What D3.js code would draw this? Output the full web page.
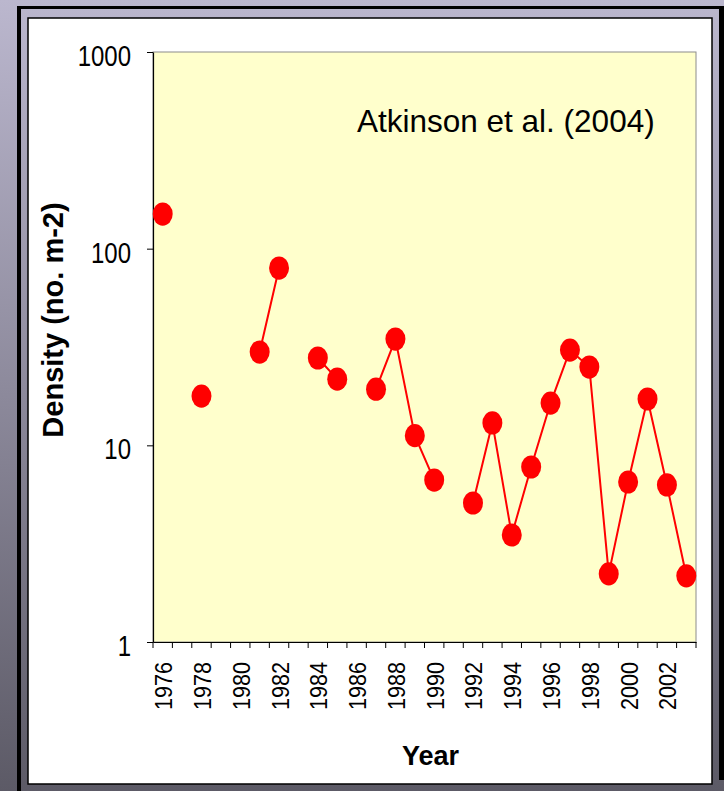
<!DOCTYPE html>
<html>
<head>
<meta charset="utf-8">
<script src="https://cdn.jsdelivr.net/npm/d3@7"></script>
<style>
  html, body { margin: 0; padding: 0; background: #ffffff; }
  svg { display: block; }
</style>
</head>
<body>
<svg id="chart" width="724" height="791"></svg>
<script>
// ---- data ----
const years = [1976,1977,1978,1979,1980,1981,1982,1983,1984,1985,1986,1987,1988,1989,
               1990,1991,1992,1993,1994,1995,1996,1997,1998,1999,2000,2001,2002,2003];
const density = [150,null,17.8,null,null,29.8,79.7,null,27.8,21.7,null,19.3,34.7,11.2,
                 6.66,null,5.09,13.0,3.50,7.76,16.4,30.5,25.0,2.22,6.51,17.2,6.29,2.17];
const yTicks = [1,10,100,1000];
const xLabelYears = [1976,1978,1980,1982,1984,1986,1988,1990,1992,1994,1996,1998,2000,2002];
const yTitle = "Density (no. m-2)";
const xTitle = "Year";
const note = "Atkinson et al. (2004)";

(function () {
const data = years.map((yr, i) => ({ year: yr, value: density[i] }));

const FONT = "'Liberation Sans', Arial, Helvetica, sans-serif";
const svg = d3.select("#chart");

// ---- background frame ----
const defs = svg.append("defs");
const grad = defs.append("linearGradient").attr("id", "bg")
  .attr("x1", 0).attr("y1", 0).attr("x2", 0).attr("y2", 1);
grad.append("stop").attr("offset", "0%").attr("stop-color", "#bbb7ce");
grad.append("stop").attr("offset", "50%").attr("stop-color", "#8c899b");
grad.append("stop").attr("offset", "100%").attr("stop-color", "#5c5a66");

svg.append("rect").attr("x", 0).attr("y", 0).attr("width", 724).attr("height", 791)
  .attr("fill", "url(#bg)");
// thick black frame (left, top, right)
svg.append("rect").attr("x", 17).attr("y", 6).attr("width", 4).attr("height", 785).attr("fill", "#000");
svg.append("rect").attr("x", 17).attr("y", 6).attr("width", 707).attr("height", 3).attr("fill", "#000");
svg.append("rect").attr("x", 719).attr("y", 6).attr("width", 5).attr("height", 774).attr("fill", "#000");
// white chart panel
svg.append("rect").attr("x", 28).attr("y", 18).attr("width", 684).attr("height", 766)
  .attr("fill", "#ffffff").attr("stroke", "#000").attr("stroke-width", 1.5);

// ---- plot area ----
const pLeft = 153, pRight = 696, pTop = 52, pBottom = 642;

const x = d3.scaleBand().domain(years).range([pLeft, pRight]).padding(0);
const y = d3.scaleLog().domain([1, 1000]).range([pBottom, pTop]);

svg.append("rect").attr("x", pLeft).attr("y", pTop)
  .attr("width", pRight - pLeft).attr("height", pBottom - pTop)
  .attr("fill", "#ffffcc").attr("stroke", "#8c8c8c").attr("stroke-width", 1);

// Y axis
const yAxis = svg.append("g").attr("transform", `translate(${pLeft},0)`)
  .call(d3.axisLeft(y).tickValues(yTicks).tickFormat(d3.format("d")).tickSize(6).tickSizeOuter(0));
yAxis.select(".domain").attr("stroke", "#000").attr("stroke-width", 1.2);
yAxis.selectAll(".tick line").attr("stroke", "#000").attr("stroke-width", 1);
yAxis.selectAll(".tick text")
  .attr("x", 0).attr("y", 0).attr("dy", "0.36em")
  .attr("text-anchor", "end")
  .attr("transform", "translate(-22,2.5) scale(1,1.26)")
  .attr("fill", "#000")
  .style("font-family", FONT).style("font-size", "24px");

// X axis: labels at band centers, ticks at band boundaries
const xAxis = svg.append("g").attr("transform", `translate(0,${pBottom})`)
  .call(d3.axisBottom(x).tickValues(xLabelYears).tickSize(0).tickSizeOuter(0));
xAxis.select(".domain").attr("stroke", "#000").attr("stroke-width", 1.2);
xAxis.selectAll(".tick line").remove();
xAxis.selectAll(".tick text")
  .attr("x", 0).attr("y", 0).attr("dy", 0)
  .attr("text-anchor", "end")
  .attr("transform", "translate(9.5,20) rotate(-90) scale(0.9,1)")
  .attr("fill", "#000")
  .style("font-family", FONT).style("font-size", "24px");

const boundaries = years.map(d => x(d)).concat([x(years[years.length - 1]) + x.bandwidth()]);
xAxis.selectAll("line.btick").data(boundaries).join("line")
  .attr("class", "btick")
  .attr("x1", d => d).attr("x2", d => d)
  .attr("y1", 0).attr("y2", 6)
  .attr("stroke", "#000").attr("stroke-width", 1);

// ---- series ----
const cx = d => x(d.year) + x.bandwidth() / 2;
const line = d3.line()
  .defined(d => d.value != null)
  .x(cx)
  .y(d => y(d.value));

svg.append("path").datum(data)
  .attr("fill", "none").attr("stroke", "#ff0000").attr("stroke-width", 2)
  .attr("d", line);

svg.selectAll("ellipse.pt").data(data.filter(d => d.value != null)).join("ellipse")
  .attr("class", "pt")
  .attr("cx", cx).attr("cy", d => y(d.value))
  .attr("rx", 10).attr("ry", 11.6)
  .attr("fill", "#ff0000");

// ---- titles ----
svg.append("text")
  .attr("transform", "translate(63,320) rotate(-90)")
  .attr("text-anchor", "middle")
  .style("font-family", FONT).style("font-size", "29px").style("font-weight", "bold")
  .attr("fill", "#000")
  .text(yTitle);

svg.append("text")
  .attr("x", 430.5).attr("y", 765)
  .attr("text-anchor", "middle")
  .style("font-family", FONT).style("font-size", "27px").style("font-weight", "bold")
  .attr("fill", "#000")
  .text(xTitle);

svg.append("text")
  .attr("x", 357).attr("y", 131.5)
  .style("font-family", FONT).style("font-size", "31.5px")
  .attr("fill", "#000")
  .text(note);
})();
</script>
</body>
</html>
